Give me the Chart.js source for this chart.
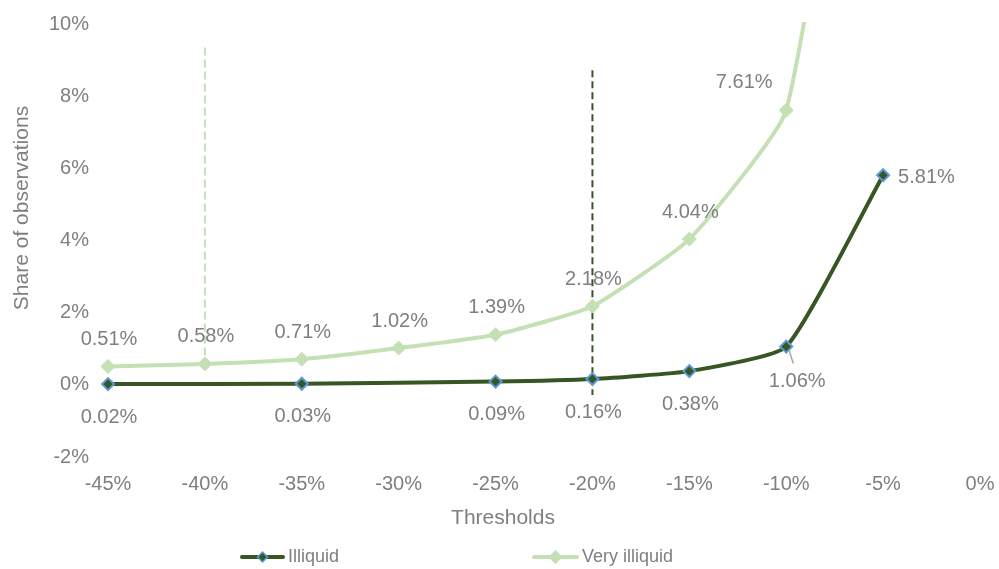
<!DOCTYPE html>
<html>
<head>
<meta charset="utf-8">
<script src="https://cdn.jsdelivr.net/npm/chart.js@4.4.1/dist/chart.umd.min.js"></script>
<style>
    html, body { margin: 0; padding: 0; background: #fff; }
    #wrap { width: 999px; height: 569px; position: relative; }
</style>
</head>
<body>
<div id="wrap"><canvas id="chart"></canvas></div>
<script>
// Chart data
const thresholds = [-45, -40, -35, -30, -25, -20, -15, -10, -5];
const illiquid = [0.02, null, 0.03, null, 0.09, 0.16, 0.38, 1.06, 5.81];
const veryIlliquid = [0.51, 0.58, 0.71, 1.02, 1.39, 2.18, 4.04, 7.61, 24];
const xTicks = [-45, -40, -35, -30, -25, -20, -15, -10, -5, 0];
const yTicks = [-2, 0, 2, 4, 6, 8, 10];
// vertical dashed cut-off markers: threshold, top value, bottom value
const cutoffX = [-40, -20];
const cutoffTop = [9.35, 8.72];
const cutoffBottom = [0.58, -0.28];

const colors = {
    dark: '#375623',
    light: '#c5e0b4',
    marker: '#5b9bd5',
    text: '#7f7f7f'
};
const FONT = '"Liberation Sans", Arial, sans-serif';

function toPoints(values) {
    return thresholds
        .map((x, i) => ({ x: x, y: values[i] }))
        .filter(p => p.y !== null);
}

function fmt(v) {
    return v.toFixed(2) + '%';
}

// Data labels, axis titles and legend
const annotate = {
    id: 'annotate',
    afterDatasetsDraw(chart, args, opts) {
        const ctx = chart.ctx;
        const yMax = chart.scales.y.max;
        ctx.save();
        ctx.font = '20px ' + FONT;
        ctx.fillStyle = colors.text;
        ctx.textBaseline = 'middle';
        opts.series.forEach(s => {
            const meta = chart.getDatasetMeta(s.index);
            const data = chart.data.datasets[s.index].data;
            meta.data.forEach((pt, i) => {
                if (data[i].y > yMax) return;
                const off = (s.special && s.special[data[i].x]) || s.offset;
                ctx.textAlign = off[2] || 'center';
                ctx.fillText(fmt(data[i].y), pt.x + off[0], pt.y + off[1]);
                if (off[3]) {
                    ctx.strokeStyle = '#a6a6a6';
                    ctx.lineWidth = 1.5;
                    ctx.beginPath();
                    ctx.moveTo(pt.x + 3, pt.y + 4);
                    ctx.lineTo(pt.x + 7, pt.y + 17);
                    ctx.stroke();
                }
            });
        });
        ctx.restore();
    },
    afterDraw(chart) {
        const ctx = chart.ctx;
        ctx.save();
        ctx.fillStyle = colors.text;
        ctx.textBaseline = 'middle';

        // axis titles
        ctx.font = '21px ' + FONT;
        ctx.textAlign = 'center';
        ctx.fillText('Thresholds', 503, 518);
        ctx.save();
        ctx.translate(22, 208);
        ctx.rotate(-Math.PI / 2);
        ctx.fillText('Share of observations', 0, 0);
        ctx.restore();

        // legend
        const items = [
            { label: 'Illiquid', x0: 242, x1: 283, line: colors.dark, fill: colors.dark, border: colors.marker, r: 5 },
            { label: 'Very illiquid', x0: 534, x1: 577, line: colors.light, fill: colors.light, border: colors.light, r: 6 }
        ];
        const y = 557;
        ctx.font = '18px ' + FONT;
        ctx.textAlign = 'left';
        items.forEach(it => {
            ctx.strokeStyle = it.line;
            ctx.lineWidth = 4;
            ctx.lineCap = 'round';
            ctx.beginPath();
            ctx.moveTo(it.x0, y);
            ctx.lineTo(it.x1, y);
            ctx.stroke();
            const cx = (it.x0 + it.x1) / 2;
            ctx.beginPath();
            ctx.moveTo(cx - it.r, y);
            ctx.lineTo(cx, y - it.r);
            ctx.lineTo(cx + it.r, y);
            ctx.lineTo(cx, y + it.r);
            ctx.closePath();
            ctx.fillStyle = it.fill;
            ctx.fill();
            ctx.strokeStyle = it.border;
            ctx.lineWidth = 1.5;
            ctx.stroke();
            ctx.fillStyle = colors.text;
            ctx.fillText(it.label, it.x1 + 5, y);
        });
        ctx.restore();
    }
};

const cutoffSets = cutoffX.map((x, i) => ({
    label: 'cutoff' + i,
    data: [{ x: x, y: cutoffTop[i] }, { x: x, y: cutoffBottom[i] }],
    borderColor: i === 0 ? colors.light : colors.dark,
    borderWidth: 2,
    borderDash: i === 0 ? [8, 4] : [7, 4],
    pointRadius: 0,
    tension: 0,
    order: 3
}));

// fixed axis sizes, and no extra room for the edge tick labels
function fitX(s) {
    s.height = 112;
    s.paddingLeft = 0;
    s.paddingRight = 0;
}
function fitY(s) {
    s.width = 108;
    s.paddingTop = 0;
    s.paddingBottom = 0;
}

// keep edge markers whole, but cut the line at the top of the plot
const seriesClip = { left: 12, right: 12, top: 2, bottom: 12 };

const ctx = document.getElementById('chart');
new Chart(ctx, {
    type: 'line',
    data: {
        datasets: [
            {
                label: 'Illiquid',
                data: toPoints(illiquid),
                borderColor: colors.dark,
                borderWidth: 4,
                backgroundColor: colors.dark,
                pointStyle: 'rectRot',
                pointRadius: 6,
                pointBackgroundColor: colors.dark,
                pointBorderColor: colors.marker,
                pointBorderWidth: 2,
                tension: 0.15,
                clip: seriesClip,
                order: 1
            },
            {
                label: 'Very illiquid',
                data: toPoints(veryIlliquid),
                borderColor: colors.light,
                borderWidth: 4,
                backgroundColor: colors.light,
                pointStyle: 'rectRot',
                pointRadius: 7,
                pointBackgroundColor: colors.light,
                pointBorderColor: colors.light,
                pointBorderWidth: 1,
                tension: 0.15,
                clip: seriesClip,
                order: 2
            }
        ].concat(cutoffSets)
    },
    options: {
        responsive: true,
        maintainAspectRatio: false,
        animation: false,
        layout: {
            padding: { left: 0, right: 19, top: 24, bottom: 0 }
        },
        elements: {
            line: { capBezierPoints: false }
        },
        plugins: {
            legend: { display: false },
            tooltip: { enabled: false },
            annotate: {
                series: [
                    {
                        index: 1,
                        offset: [1, -27],
                        special: { '-10': [-42, -28] }
                    },
                    {
                        index: 0,
                        offset: [1, 33],
                        special: { '-10': [11, 35, 'center', true], '-5': [15, 2, 'left'] }
                    }
                ]
            }
        },
        scales: {
            x: {
                type: 'linear',
                min: -45,
                max: 0,
                grid: { display: false, drawTicks: false },
                border: { display: false },
                afterBuildTicks: s => { s.ticks = xTicks.map(v => ({ value: v })); },
                afterFit: fitX,
                ticks: {
                    padding: 15,
                    color: colors.text,
                    font: { family: FONT, size: 20 },
                    callback: v => v + '%'
                }
            },
            y: {
                min: -2,
                max: 10,
                grid: { display: false, drawTicks: false },
                border: { display: false },
                afterBuildTicks: s => { s.ticks = yTicks.map(v => ({ value: v })); },
                afterFit: fitY,
                ticks: {
                    padding: 19,
                    color: colors.text,
                    font: { family: FONT, size: 20 },
                    callback: v => v + '%'
                }
            }
        }
    },
    plugins: [annotate]
});
</script>
</body>
</html>
